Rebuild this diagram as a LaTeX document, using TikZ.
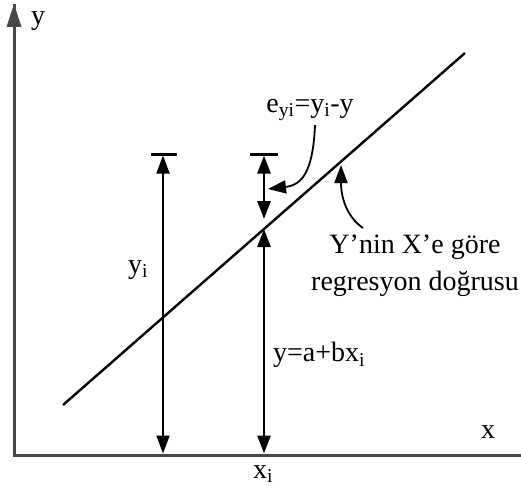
\documentclass[tikz,border=0pt]{standalone}
\usepackage{fontspec}
\setmainfont{Liberation Serif}
\usetikzlibrary{arrows.meta}
\begin{document}
\begin{tikzpicture}[x=1pt,y=-1pt,
  lbl/.style={inner sep=0pt, font=\fontsize{28}{37}\selectfont},
  capbar/.style={line width=3pt},
  dbl/.style={{Triangle[length=18pt,width=13pt]}-{Triangle[length=18pt,width=13pt]}},
  tip/.style={-{Triangle[length=18pt,width=13pt]}},
  thin/.style={line width=1.8pt},
  thick/.style={line width=2.6pt}]
\useasboundingbox (0,0) rectangle (521,492);
% axes
\coordinate (O) at (14,455);
\coordinate (Ytop) at (14,4);
\coordinate (Xend) at (521,455);
\draw[draw=black!72, line width=3pt, line join=miter] (Xend) -- (O) -- (Ytop);
\fill[black!72] (14,4) -- (6.5,27) -- (21.5,27) -- cycle;
% regression line
\coordinate (L1) at (63,405);
\coordinate (L2) at (465,53);
\draw[line width=2.4pt] (L1) -- (L2);
% left double arrow (y_i)
\coordinate (Ltop) at (163,155.5);
\coordinate (Lbot) at (163,453.5);
\draw[capbar] (150.5,154) -- (176.5,154);
\draw[thin, dbl] (Ltop) -- (Lbot);
% right double arrows
\coordinate (Rtop) at (264,155.5);
\coordinate (Rc1) at (264,219);
\coordinate (Rc2) at (264,229);
\coordinate (Rbot) at (264,453.5);
\draw[capbar] (250,154) -- (278,154);
\draw[thick, dbl] (Rtop) -- (Rc1);
\draw[thick, dbl] (Rc2) -- (Rbot);
% labels
\node[lbl] (ylab) at (38,21) {y};
\node[lbl] (xlab) at (488,432) {x};
\node[lbl] (xi) at (263,474) {x\textsubscript{i}};
\node[lbl] (yi) at (138,270) {y\textsubscript{i}};
\node[lbl, anchor=west] (yeq) at (273,355) {y=a+bx\textsubscript{i}};
\node[lbl] (elab) at (310,110) {e\textsubscript{yi}=y\textsubscript{i}-y};
\node[lbl, align=center] (reg) at (415,266) {Y’nin X’e göre\\regresyon doğrusu};
% curved pointers
\coordinate (eTip) at (268,189);
\coordinate (rTip) at (341,165);
\coordinate (rStart) at (363,228);
\draw[thin, tip] ([xshift=5pt,yshift=-4pt]elab.south) .. controls (313,172) and (302,185) .. (eTip);
\draw[thin, tip] (rStart) .. controls (347,217) and (341,198) .. (rTip);
\end{tikzpicture}
\end{document}
